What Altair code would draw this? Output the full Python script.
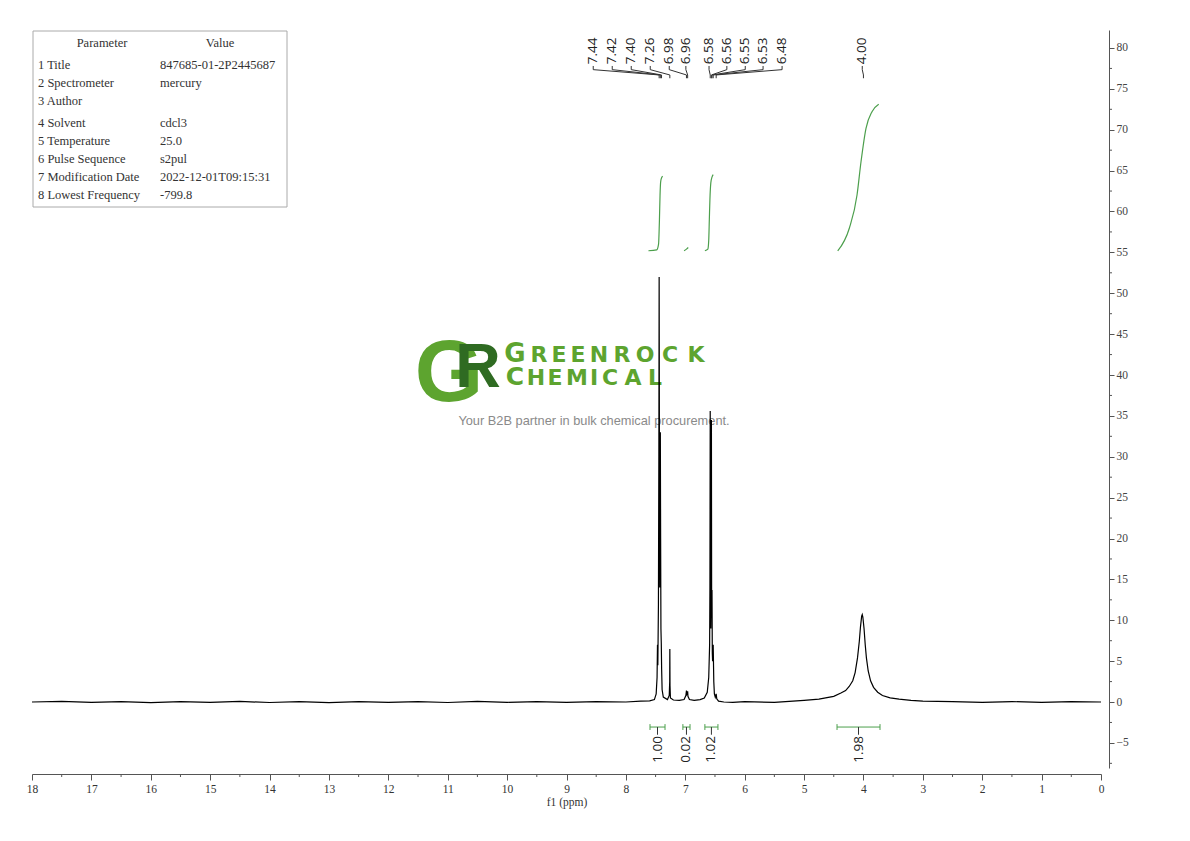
import altair as alt
import pandas as pd

# ---------------- data ----------------
spec_ppm = [18.0, 17.5, 17.0, 16.5, 16.0, 15.5, 15.0, 14.5, 14.0, 13.5, 13.0, 12.5, 12.0, 11.5,
            11.0, 10.5, 10.0, 9.5, 9.0, 8.5, 8.0, 7.75, 7.6,
            7.52, 7.49, 7.475, 7.468, 7.462, 7.452, 7.445, 7.44, 7.435, 7.43, 7.425, 7.42, 7.415,
            7.41, 7.404, 7.398, 7.39, 7.37, 7.30, 7.27, 7.262, 7.26, 7.257, 7.25, 7.20, 7.10,
            7.02, 6.99, 6.98, 6.975, 6.965, 6.96, 6.955, 6.93, 6.85, 6.75, 6.68, 6.63, 6.605,
            6.59, 6.585, 6.58, 6.576, 6.57, 6.565, 6.56, 6.556, 6.55, 6.545, 6.54, 6.53, 6.52,
            6.51, 6.495, 6.48, 6.47, 6.44, 6.35, 6.2, 6.0, 5.5, 5.0,
            4.75, 4.50, 4.38, 4.30, 4.24, 4.18, 4.14, 4.10, 4.07, 4.05, 4.03, 4.02, 4.01, 3.99,
            3.97, 3.95, 3.92, 3.88, 3.83, 3.76, 3.68, 3.55, 3.40, 3.20, 3.00,
            2.5, 2.0, 1.5, 1.0, 0.5, 0.0]
spec_int = [0.0, 0.08, -0.05, 0.06, -0.08, 0.05, -0.04, 0.07, -0.06, 0.04, -0.07, 0.06, -0.05, 0.05,
            -0.06, 0.07, -0.04, 0.06, -0.05, 0.05, 0.0, 0.1, 0.15,
            0.3, 1.0, 3.0, 7.0, 4.5, 12.0, 30.0, 52.0, 28.0, 14.0, 22.0, 33.0, 20.0,
            9.0, 7.2, 4.0, 1.5, 0.6, 0.3, 0.8, 2.5, 6.5, 2.0, 0.5, 0.25, 0.2,
            0.3, 0.8, 1.4, 0.9, 1.0, 1.3, 0.7, 0.3, 0.2, 0.3, 0.5, 1.2, 3.0,
            7.0, 14.0, 35.6, 12.0, 9.0, 13.0, 34.5, 12.0, 13.7, 6.0, 5.0, 7.0, 2.5,
            1.0, 0.6, 1.0, 0.4, 0.1, 0.0, -0.05, 0.05, -0.05, 0.2,
            0.35, 0.7, 1.1, 1.4, 1.9, 2.6, 3.6, 5.4, 7.4, 9.2, 10.5, 10.7, 10.4, 9.0,
            7.0, 5.4, 3.8, 2.6, 1.8, 1.2, 0.8, 0.5, 0.35, 0.2, 0.1,
            0.05, -0.05, 0.05, -0.04, 0.05, 0.0]

peak_text = ["7.44", "7.42", "7.40", "7.26", "6.98", "6.96", "6.58", "6.56", "6.55", "6.53", "6.48", "4.00"]
peak_ppm = [7.44, 7.42, 7.40, 7.26, 6.98, 6.96, 6.58, 6.56, 6.55, 6.53, 6.48, 4.00]
peak_label_ppm = [8.55, 8.23, 7.91, 7.59, 7.27, 6.99, 6.60, 6.30, 5.99, 5.69, 5.37, 4.02]

integ_text = ["1.00", "0.02", "1.02", "1.98"]
integ_from = [7.594, 7.04, 6.67, 4.445]
integ_to = [7.341, 6.92, 6.45, 3.721]

integ_curve_ppm = [
    [7.62, 7.48, 7.45, 7.435, 7.425, 7.415, 7.40, 7.38],
    [7.02, 6.98, 6.95],
    [6.67, 6.62, 6.605, 6.595, 6.585, 6.57, 6.55, 6.53],
    [4.433, 4.238, 4.108, 4.041, 3.957, 3.856, 3.743],
]
integ_curve_val = [
    [55.2, 55.3, 56.0, 59.0, 62.0, 63.6, 64.1, 64.3],
    [55.2, 55.4, 55.6],
    [55.2, 55.4, 56.5, 59.0, 61.5, 63.5, 64.2, 64.5],
    [55.17, 57.95, 62.02, 66.09, 70.18, 72.21, 73.11],
]

param_names = ["Title", "Spectrometer", "Author", "Solvent", "Temperature",
               "Pulse Sequence", "Modification Date", "Lowest Frequency"]
param_values = ["847685-01-2P2445687", "mercury", "", "cdcl3", "25.0",
                "s2pul", "2022-12-01T09:15:31", "-799.8"]

x_major = list(range(0, 19))
x_minor = [i + 0.5 for i in range(18)]
y_major = list(range(-5, 81, 5))
y_minor = [-7.5 + 5 * i for i in range(18)]

logo_word1 = "GREENROCK"
logo_word2 = "CHEMICAL"
tagline = "Your B2B partner in bulk chemical procurement."

# ---------------- layout / style ----------------
W, H = 1069, 738
GREEN = "#4c9f4c"
LOGO_GREEN = "#5da42f"
AXC = "#555555"
SERIF = "Liberation Serif"

xs = alt.Scale(domain=[0, 18], reverse=True, nice=False, zero=False)
ys = alt.Scale(domain=[-8.07, 82.2], nice=False, zero=False)

xaxis = alt.Axis(
    values=x_major, title="f1 (ppm)", grid=False, offset=6, tickSize=6,
    domainColor=AXC, tickColor=AXC, labelFont=SERIF, labelFontSize=11.5,
    labelColor="#333", labelPadding=3, labelFlush=False, labelOverlap=False,
    titleFont=SERIF, titleFontSize=11.5, titleFontWeight="normal", titleColor="#333",
    titlePadding=2, format="d")
yaxis = alt.Axis(
    orient="right", values=y_major, title="", grid=False, offset=8, tickSize=5,
    domainColor=AXC, tickColor=AXC, labelFont=SERIF, labelFontSize=11.5,
    labelColor="#444", labelPadding=2, labelFlush=False, labelOverlap=False, format="d")


def X(field):
    return alt.X(field, scale=xs, axis=xaxis)


def Y(field):
    return alt.Y(field, scale=ys, axis=yaxis)


one = pd.DataFrame({"a": [0]})


def label_at(text, px, py, **kw):
    return alt.Chart(one).mark_text(text=text, **kw).encode(x=alt.value(px), y=alt.value(py))


# spectrum
spec_df = pd.DataFrame({"ppm": spec_ppm, "val": spec_int, "idx": range(len(spec_ppm))})
spectrum = alt.Chart(spec_df).mark_line(color="black", strokeWidth=1.2).encode(
    x=X("ppm:Q"), y=Y("val:Q"), order="idx:Q")

# minor ticks
xminor = alt.Chart(pd.DataFrame({"v": x_minor})).mark_rule(color=AXC).encode(
    x=X("v:Q"), y=alt.value(H + 6), y2=alt.value(H + 9))
yminor = alt.Chart(pd.DataFrame({"v": y_minor})).mark_rule(color=AXC).encode(
    y=Y("v:Q"), x=alt.value(W + 8), x2=alt.value(W + 11))

# integral curves
irows = []
for g, (pp, vv) in enumerate(zip(integ_curve_ppm, integ_curve_val)):
    for k, (p, v) in enumerate(zip(pp, vv)):
        irows.append({"g": g, "k": k, "ppm": p, "val": v})
icurves = alt.Chart(pd.DataFrame(irows)).mark_line(
    color=GREEN, strokeWidth=1.2, interpolate="monotone").encode(
    x=X("ppm:Q"), y=Y("val:Q"), detail="g:N", order="k:Q")

# integration brackets
bdf = pd.DataFrame({"a": integ_from, "b": integ_to, "t": integ_text})
bdf["c"] = (bdf["a"] + bdf["b"]) / 2
bdf["y"] = -3.06
bdf["y_top"] = -2.7
bdf["y_bot"] = -3.42
bdf["y_lab"] = -4.0
bdf["y_txt"] = -4.15
bar = alt.Chart(bdf).mark_rule(color=GREEN).encode(x=X("a:Q"), x2="b:Q", y=Y("y:Q"))
endl = alt.Chart(bdf).mark_rule(color=GREEN).encode(x=X("a:Q"), y=Y("y_top:Q"), y2="y_bot:Q")
endr = alt.Chart(bdf).mark_rule(color=GREEN).encode(x=X("b:Q"), y=Y("y_top:Q"), y2="y_bot:Q")
cent = alt.Chart(bdf).mark_rule(color="#333").encode(x=X("c:Q"), y=Y("y:Q"), y2="y_lab:Q")
btxt = alt.Chart(bdf).mark_text(angle=270, align="right", baseline="middle",
                                font="Open Sans", fontSize=13.5, color="#222").encode(
    x=X("c:Q"), y=Y("y_txt:Q"), text="t:N")

# peak labels and connectors
pdf = pd.DataFrame({"t": peak_text, "lp": peak_label_ppm, "pp": peak_ppm})
pdf["y"] = 78.0
ptxt = alt.Chart(pdf).mark_text(angle=270, align="left", baseline="middle",
                                font="Open Sans", fontSize=13.5, color="#222").encode(
    x=X("lp:Q"), y=Y("y:Q"), text="t:N")
crow = []
for i, (lp, pp) in enumerate(zip(peak_label_ppm, peak_ppm)):
    for k, (p, v) in enumerate([(lp, 77.8), (lp, 77.35), (pp, 76.7), (pp, 76.3)]):
        crow.append({"g": i, "k": k, "ppm": p, "val": v})
conn = alt.Chart(pd.DataFrame(crow)).mark_line(color="#333", strokeWidth=1).encode(
    x=X("ppm:Q"), y=Y("val:Q"), detail="g:N", order="k:Q")

# parameter table (pixel-placed annotation)
box = alt.Chart(one).mark_rect(fillOpacity=0, stroke="#aaaaaa", strokeWidth=1).encode(
    x=alt.value(1), x2=alt.value(255), y=alt.value(1), y2=alt.value(177))
tstyle = dict(font=SERIF, fontSize=12.5, color="#333", baseline="middle")
table_layers = [label_at("Parameter", 70, 13, align="center", **tstyle),
                label_at("Value", 188, 13, align="center", **tstyle)]
for i, (n, v) in enumerate(zip(param_names, param_values)):
    py = 35 + 18 * i + (4 if i >= 3 else 0)
    table_layers.append(label_at(f"{i + 1} {n}", 6, py, align="left", **tstyle))
    if v:
        table_layers.append(label_at(v, 128, py, align="left", **tstyle))

# watermark logo (pixel-placed annotation)
logo_layers = [
    label_at("G", 417, 371, font="Liberation Sans", fontWeight="bold", fontSize=88,
             color=LOGO_GREEN, align="center", baseline="alphabetic"),
    label_at("R", 446, 357, font="Liberation Sans", fontWeight="bold", fontSize=63,
             color="#2f6b22", align="center", baseline="alphabetic"),
]
w1x = [483, 507, 527, 546, 567, 590, 613, 638, 664]
w2x = [483, 504, 523, 545, 562, 578, 601, 623]
for i, ch in enumerate(logo_word1):
    logo_layers.append(label_at(ch, w1x[i], 332, font="DejaVu Sans", fontWeight="bold",
                                fontSize=26 if i == 0 else 22, color=LOGO_GREEN,
                                align="center", baseline="alphabetic"))
for i, ch in enumerate(logo_word2):
    logo_layers.append(label_at(ch, w2x[i], 355, font="DejaVu Sans", fontWeight="bold",
                                fontSize=25 if i == 0 else 22, color=LOGO_GREEN,
                                align="center", baseline="alphabetic"))
logo_layers.append(label_at(tagline, 562, 391, font="Liberation Sans", fontSize=12.8,
                            color="#8a8a8a", align="center", baseline="middle"))

chart = alt.layer(
    *logo_layers, spectrum,
    xminor, yminor, icurves, bar, endl, endr, cent, btxt, ptxt, conn,
    box, *table_layers,
).properties(
    width=W, height=H,
    autosize=alt.AutoSizeParams(type="none"),
    padding={"left": 24, "top": 22, "right": 80, "bottom": 60},
).configure_view(stroke=None)

chart.save("out.html", embed_options={"renderer": "svg", "actions": False})
